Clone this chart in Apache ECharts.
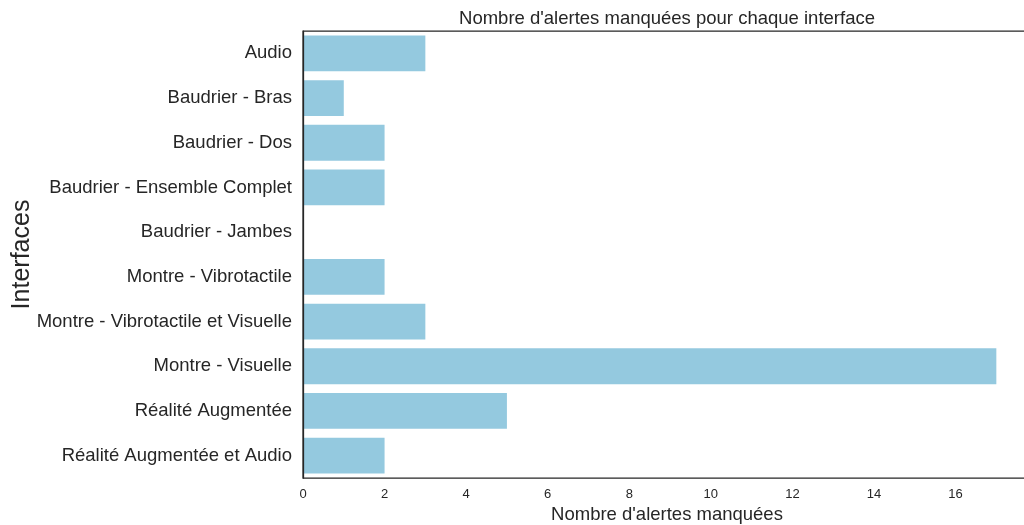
<!DOCTYPE html>
<html><head><meta charset="utf-8">
<script src="https://cdn.jsdelivr.net/npm/echarts@6/dist/echarts.min.js"></script>
<style>html,body{margin:0;padding:0;background:#fff}#c{width:1024px;height:525px}</style>
</head><body><div id="c"></div>
<script>
const categories = ["Audio","Baudrier - Bras","Baudrier - Dos","Baudrier - Ensemble Complet","Baudrier - Jambes","Montre - Vibrotactile","Montre - Vibrotactile et Visuelle","Montre - Visuelle","Réalité Augmentée","Réalité Augmentée et Audio"];
const missed = [3,1,2,2,0,2,3,17,5,2];
const xTicks = [0,2,4,6,8,10,12,14,16];

const chart = echarts.init(document.getElementById('c'), null, {renderer:'canvas'});
const font = 'Liberation Sans, Arial, sans-serif';
chart.setOption({
  animation:false,
  backgroundColor:'#ffffff',
  title:{text:"Nombre d'alertes manquées pour chaque interface", left:662, textAlign:'center', top:4,
    textStyle:{fontFamily:font, fontSize:18.5, fontWeight:'normal', color:'#262626'}},
  grid:{left:303, top:31, width:728, height:447, outerBoundsMode:'none', containLabel:false,
    show:true, borderColor:'#262626', borderWidth:1.25},
  xAxis:{type:'value', min:0, max:17.85, interval:2,
    axisLine:{show:false}, axisTick:{show:false}, splitLine:{show:false},
    axisLabel:{fontFamily:font, fontSize:13, color:'#262626', margin:10,
      formatter:v=> xTicks.includes(v) ? String(v) : ''},
    name:"Nombre d'alertes manquées", nameLocation:'middle', nameGap:27, nameMoveOverlap:false,
    nameTextStyle:{fontFamily:font, fontSize:18.5, color:'#262626'}},
  yAxis:{type:'category', data:categories, inverse:true, z:5,
    axisLine:{show:true, lineStyle:{color:'#262626', width:1.25}}, axisTick:{show:false}, splitLine:{show:false},
    axisLabel:{fontFamily:font, fontSize:18.5, color:'#262626', margin:11},
    name:'Interfaces', nameLocation:'middle', nameGap:268, nameRotate:90, nameMoveOverlap:false,
    nameTextStyle:{fontFamily:font, fontSize:25, color:'#262626'}},
  series:[{type:'bar', data:missed, barCategoryGap:'20%', z:1,
    itemStyle:{color:'#94c9df'}}]
});
</script></body></html>
